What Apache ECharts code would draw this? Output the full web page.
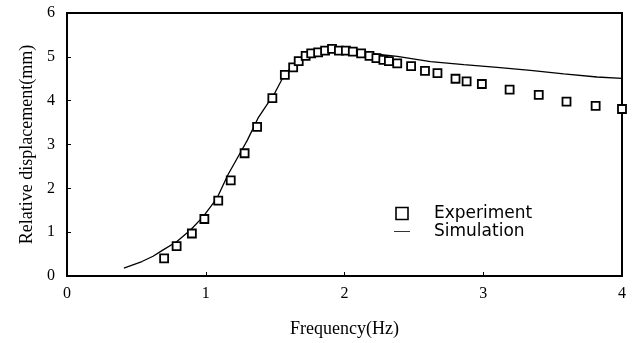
<!DOCTYPE html>
<html>
<head>
<meta charset="utf-8">
<script src="https://cdn.jsdelivr.net/npm/echarts@6/dist/echarts.min.js"></script>
<style>
  html, body { margin: 0; padding: 0; background: #fff; }
  #chart { width: 636px; height: 343px; }
</style>
</head>
<body>
<div id="chart"></div>
<script>
// 实验数据 (Hz, mm)
const expFreq = [0.70, 0.79, 0.90, 0.99, 1.09, 1.18, 1.28, 1.37, 1.48, 1.57, 1.63, 1.67, 1.72, 1.76, 1.81, 1.86, 1.91, 1.96, 2.01, 2.06, 2.12, 2.18, 2.23, 2.28, 2.32, 2.38, 2.48, 2.58, 2.67, 2.80, 2.88, 2.99, 3.19, 3.40, 3.60, 3.81, 4.00]
const expDisp = [0.40, 0.68, 0.97, 1.30, 1.72, 2.18, 2.80, 3.40, 4.06, 4.59, 4.76, 4.90, 5.02, 5.08, 5.10, 5.14, 5.18, 5.14, 5.14, 5.12, 5.08, 5.02, 4.97, 4.93, 4.90, 4.85, 4.79, 4.68, 4.63, 4.50, 4.44, 4.38, 4.25, 4.13, 3.98, 3.88, 3.81]
// 仿真曲线
const simFreq = [0.41, 0.54, 0.62, 0.69, 0.79, 0.89, 0.98, 1.08, 1.16, 1.24, 1.30, 1.38, 1.45, 1.49, 1.56, 1.62, 1.70, 1.80, 1.90, 2.00, 2.10, 2.20, 2.38, 2.62, 2.86, 3.10, 3.34, 3.58, 3.82, 4.00]
const simDisp = [0.18, 0.33, 0.45, 0.59, 0.78, 1.05, 1.35, 1.77, 2.31, 2.76, 3.10, 3.62, 3.95, 4.13, 4.55, 4.78, 4.98, 5.10, 5.15, 5.15, 5.12, 5.07, 5.01, 4.89, 4.82, 4.76, 4.69, 4.61, 4.54, 4.51]
const xTicks = [0, 1, 2, 3, 4]
const yTicks = [0, 1, 2, 3, 4, 5, 6]

const chart = echarts.init(document.getElementById('chart'))
const serif = '"Liberation Serif", "Times New Roman", serif'

const option = {
  animation: false,
  backgroundColor: '#fff',
  grid: {
    left: 67, right: 14, top: 13, bottom: 67,
    show: true, borderColor: '#000', borderWidth: 2
  },
  legend: {
    orient: 'vertical',
    left: 389, top: 200,
    itemGap: 1,
    itemWidth: 16, itemHeight: 12,
    symbolKeepAspect: true,
    textStyle: { fontFamily: '"DejaVu Sans", sans-serif', fontSize: 17, color: '#000', padding: [0, 0, 0, 19] },
    data: [
      { name: 'Experiment', icon: 'path://M0,0H10V10H0Z', itemStyle: { color: '#fff', borderColor: '#000', borderWidth: 1.6 } },
      { name: 'Simulation', icon: 'path://M0,0H20V1H0Z', itemStyle: { color: '#000', borderWidth: 0 } }
    ]
  },
  xAxis: {
    type: 'value',
    min: xTicks[0], max: xTicks[xTicks.length - 1], interval: 1,
    name: 'Frequency(Hz)', nameLocation: 'middle', nameGap: 44,
    nameTextStyle: { fontFamily: serif, fontSize: 18, color: '#000' },
    axisLine: { lineStyle: { color: '#000', width: 2 } },
    axisTick: { inside: true, length: 4, lineStyle: { color: '#000' } },
    axisLabel: { fontFamily: serif, fontSize: 16, color: '#000', margin: 10 },
    splitLine: { show: false }
  },
  yAxis: {
    type: 'value',
    min: yTicks[0], max: yTicks[yTicks.length - 1], interval: 1,
    name: 'Relative displacement(mm)', nameLocation: 'middle', nameGap: 29,
    nameTextStyle: { fontFamily: serif, fontSize: 18, color: '#000' },
    axisLine: { lineStyle: { color: '#000', width: 2 } },
    axisTick: { inside: true, length: 4, lineStyle: { color: '#000' } },
    axisLabel: { fontFamily: serif, fontSize: 16, color: '#000', margin: 12 },
    splitLine: { show: false }
  },
  series: [
    {
      name: 'Simulation',
      type: 'line',
      symbol: 'none',
      lineStyle: { color: '#000', width: 1.3 },
      itemStyle: { color: '#000' },
      data: simFreq.map((f, i) => [f, simDisp[i]]),
      z: 2
    },
    {
      name: 'Experiment',
      type: 'scatter',
      symbol: 'rect',
      symbolSize: 8,
      itemStyle: { color: '#fff', borderColor: '#000', borderWidth: 1.8, opacity: 1 },
      data: expFreq.map((f, i) => [f, expDisp[i]]),
      z: 3
    }
  ]
}
chart.setOption(option)
</script>
</body>
</html>
